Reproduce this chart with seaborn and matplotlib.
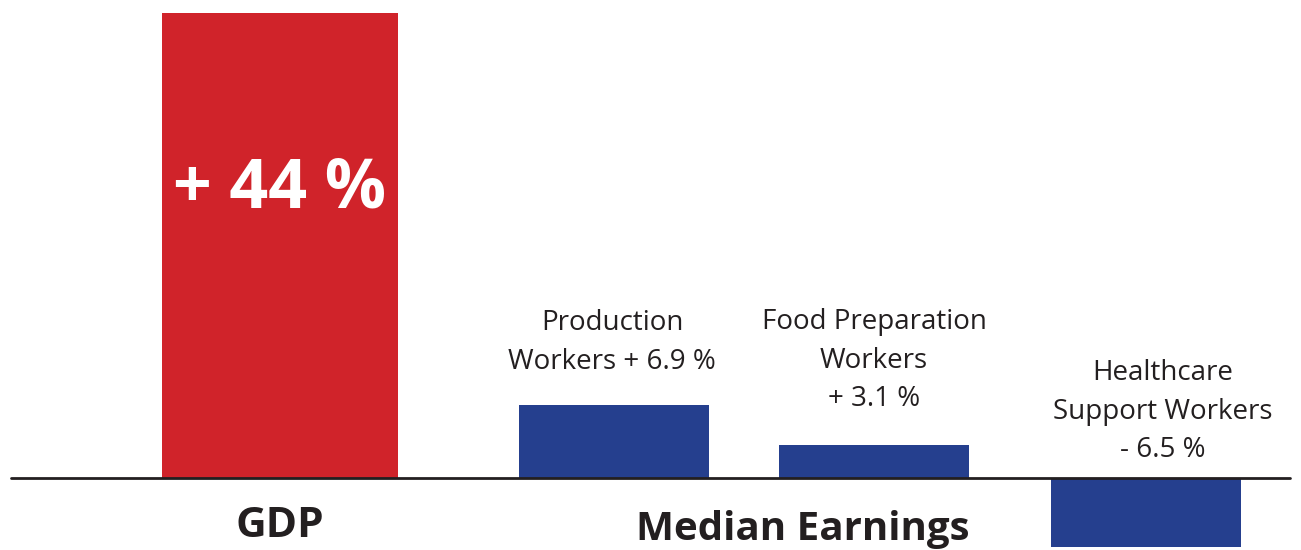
import matplotlib
matplotlib.use("Agg")
import matplotlib.pyplot as plt
import seaborn as sns
import pandas as pd

# Data: percentage change
categories = ["GDP", "Production Workers", "Food Preparation Workers", "Healthcare Support Workers"]
values = [44.0, 6.9, 3.1, -6.5]
bar_labels = ["+ 44 %", "Production\nWorkers + 6.9 %", "Food Preparation\nWorkers\n+ 3.1 %",
              "Healthcare\nSupport Workers\n- 6.5 %"]
group_labels = ["GDP", "Median Earnings"]
colors = ["#D0232A", "#253F8E", "#253F8E", "#253F8E"]

sns.set_theme(style="white")
plt.rcParams["font.family"] = ["Open Sans", "DejaVu Sans"]

W, H = 1301, 550
fig = plt.figure(figsize=(W / 100, H / 100), dpi=100)
ax = fig.add_axes([0, 0, 1, 1])

df = pd.DataFrame({"cat": categories, "val": values})
sns.barplot(data=df, x="cat", y="val", hue="cat", palette=colors, legend=False,
            saturation=1, ax=ax, order=categories, hue_order=categories)

# Layout: bar centres and widths in pixel units of the horizontal axis
centers = [280, 614, 874, 1146]
widths = [236, 190, 190, 190]
for patch, c, w in zip(ax.patches, centers, widths):
    patch.set_x(c - w / 2)
    patch.set_width(w)
    patch.set_edgecolor("none")

ax.set_xlim(0, W)
base_px = 478
scale = 44.0 / (base_px - 13)
ax.set_ylim(-(H - base_px) * scale, base_px * scale)

ax.axhline(0, xmin=11 / W, xmax=1290 / W, color="#231F20", lw=2.0, zorder=5)
ax.set_axis_off()

def fx(px):
    return px / W

def fy(py):
    return 1 - py / H

# Value label inside the GDP bar
ax.text(fx(280), fy(207), bar_labels[0], transform=ax.transAxes, ha="center", va="baseline",
        color="white", fontsize=49, fontweight="bold")

# Labels above the earnings bars
label_pos = [(612, 369), (874, 406), (1163, 457)]
for lab, (x, y) in zip(bar_labels[1:], label_pos):
    ax.text(fx(x), fy(y), lab, transform=ax.transAxes, ha="center", va="baseline",
            color="#231F20", fontsize=20, linespacing=1.5)

# Group labels
ax.text(fx(280), fy(537), group_labels[0], transform=ax.transAxes, ha="center", va="baseline",
        color="#231F20", fontsize=30.5, fontweight="bold")
ax.text(fx(803), fy(540), group_labels[1], transform=ax.transAxes, ha="center", va="baseline",
        color="#231F20", fontsize=29, fontweight="bold")

fig.savefig("out.png", dpi=100, facecolor="white")
